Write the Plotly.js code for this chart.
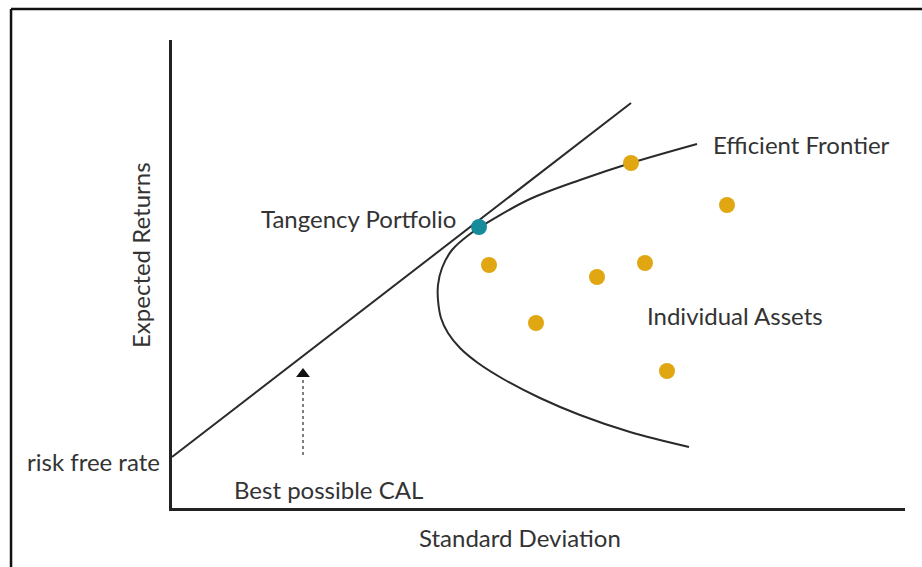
<!DOCTYPE html>
<html>
<head>
<meta charset="utf-8">
<script src="https://cdn.plot.ly/plotly-3.0.1.min.js"></script>
<style>html,body{margin:0;padding:0;background:#fff;}#chart{width:922px;height:567px;}</style>
</head>
<body>
<div id="chart"></div>
<script>
// Capital allocation line (risk-free rate to beyond tangency)
var calX = [0, 459];
var calY = [51, 405];

// Efficient frontier (upper end -> lower end)
var frontierX = [525, 459, 408, 358, 323, 298, 280, 270, 266, 266, 269, 276, 288, 306, 333, 368, 408, 458, 517];
var frontierY = [364, 345, 328, 309, 290, 274, 258, 240, 223, 208, 190, 175, 160, 145, 128, 110, 93, 76, 61];

// Individual assets
var assetX = [459, 555, 317, 425, 473, 364, 495];
var assetY = [345, 303, 243, 231, 245, 185, 137];

// Tangency portfolio
var tangX = [307];
var tangY = [281];

// Arrow pointing to the CAL
var arrowX = [131, 131];
var arrowY = [53, 134];

var labels = {
  frontier: "Efficient Frontier",
  tangency: "Tangency Portfolio",
  assets: "Individual Assets",
  rf: "risk free rate",
  cal: "Best possible CAL",
  xTitle: "Standard Deviation",
  yTitle: "Expected Returns"
};

var ink = "#2a2a2a";
var txt = "#333333";
var fnt = {family: "Lato, 'Open Sans', sans-serif", size: 24, color: txt};

var traces = [
  {x: calX, y: calY, mode: "lines", line: {color: ink, width: 2}, hoverinfo: "skip"},
  {x: frontierX, y: frontierY, mode: "lines", line: {color: ink, width: 2, shape: "spline", smoothing: 1}, hoverinfo: "skip"},
  {x: arrowX, y: arrowY, mode: "lines", line: {color: "#555", width: 1.5, dash: "dot"}, hoverinfo: "skip"},
  {x: [arrowX[1]], y: [arrowY[1]], mode: "markers", marker: {symbol: "triangle-up", size: 12, color: "#111"}, hoverinfo: "skip"},
  {x: assetX, y: assetY, mode: "markers", marker: {size: 16, color: "#E0A712"}, hoverinfo: "skip"},
  {x: tangX, y: tangY, mode: "markers", marker: {size: 16, color: "#168B9B"}, hoverinfo: "skip"}
];

var layout = {
  width: 922, height: 567,
  margin: {l: 172, r: 17, t: 40, b: 59},
  paper_bgcolor: "#fff", plot_bgcolor: "#fff",
  showlegend: false,
  xaxis: {range: [0, 733], showgrid: false, zeroline: false, showticklabels: false, ticks: "",
          showline: true, linecolor: "#222", linewidth: 3, fixedrange: true},
  yaxis: {range: [0, 468], showgrid: false, zeroline: false, showticklabels: false, ticks: "",
          showline: true, linecolor: "#222", linewidth: 3, fixedrange: true},
  shapes: [
    {type: "line", xref: "paper", yref: "paper", x0: -0.2196, x1: 1.05, y0: 1.066, y1: 1.066, line: {color: "#111", width: 2.5}},
    {type: "line", xref: "paper", yref: "paper", x0: -0.2196, x1: -0.2196, y0: -0.15, y1: 1.066, line: {color: "#111", width: 2.5}}
  ],
  annotations: [
    {text: labels.frontier, x: 539, y: 364, xref: "x", yref: "y", xanchor: "left", yanchor: "middle", showarrow: false, font: fnt},
    {text: labels.tangency, x: 286, y: 290, xref: "x", yref: "y", xanchor: "right", yanchor: "middle", showarrow: false, font: fnt},
    {text: labels.assets, x: 473, y: 193, xref: "x", yref: "y", xanchor: "left", yanchor: "middle", showarrow: false, font: fnt},
    {text: labels.cal, x: 60, y: 19, xref: "x", yref: "y", xanchor: "left", yanchor: "middle", showarrow: false, font: fnt},
    {text: labels.rf, x: -0.0136, y: 0.1004, xref: "paper", yref: "paper", xanchor: "right", yanchor: "middle", showarrow: false, font: fnt},
    {text: labels.xTitle, x: 0.4748, y: -0.062, xref: "paper", yref: "paper", xanchor: "center", yanchor: "middle", showarrow: false, font: fnt},
    {text: labels.yTitle, x: -0.0423, y: 0.5406, xref: "paper", yref: "paper", xanchor: "center", yanchor: "middle", showarrow: false, textangle: -90, font: fnt}
  ]
};

Plotly.newPlot("chart", traces, layout, {staticPlot: true, displayModeBar: false});
</script>
</body>
</html>
